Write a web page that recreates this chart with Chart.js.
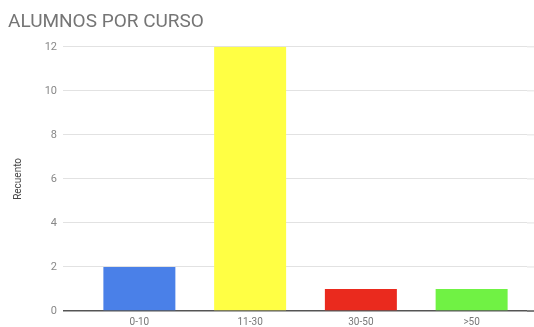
<!DOCTYPE html>
<html>
<head>
<meta charset="utf-8">
<script src="https://cdn.jsdelivr.net/npm/chart.js@4/dist/chart.umd.min.js"></script>
<style>
  body { margin: 0; background: #fff; }
  #wrap { width: 534px; height: 327px; }
</style>
</head>
<body>
<div id="wrap"><canvas id="graficoCurso"></canvas></div>
<script>
const categorias = ['0-10', '11-30', '30-50', '>50'];
const recuento = [2, 12, 1, 1];
const colores = ['#4a80e8', '#ffff44', '#ea2a1e', '#70f244'];
const tituloEje = 'Recuento';
const titulo = 'ALUMNOS POR CURSO';

const colorLinea = v => v === 0 ? '#555' : '#e2e2e2';
const anchoLinea = v => v === 0 ? 1.5 : 1;

// alarga las lineas de la grilla hasta el borde derecho
const extenderGrilla = {
    id: 'extenderGrilla',
    beforeDatasetsDraw(chart) {
        const { ctx, chartArea, scales } = chart;
        ctx.save();
        scales.y.ticks.forEach(t => {
            const y = scales.y.getPixelForValue(t.value);
            ctx.strokeStyle = colorLinea(t.value);
            ctx.lineWidth = anchoLinea(t.value);
            ctx.beginPath();
            ctx.moveTo(chartArea.right, y);
            ctx.lineTo(chart.width, y);
            ctx.stroke();
        });
        ctx.restore();
    }
};

document.addEventListener("DOMContentLoaded", () => {
    const grafico = document.querySelector("#graficoCurso");

    new Chart(grafico, {
        type: 'bar',
        data: {
            labels: categorias,
            datasets: [{
                label: tituloEje,
                data: recuento,
                backgroundColor: colores,
                barPercentage: 0.65,
                categoryPercentage: 1
            }]
        },
        options: {
            responsive: true,
            maintainAspectRatio: false,
            animation: false,
            layout: { padding: { left: 8, right: 7, top: 0, bottom: 0 } },
            plugins: {
                legend: { display: false },
                tooltip: { enabled: false },
                title: {
                    display: true,
                    text: titulo,
                    align: 'start',
                    color: '#757575',
                    font: { family: 'Roboto', size: 19, weight: 'normal' },
                    padding: { top: 11, bottom: 13 }
                }
            },
            scales: {
                x: {
                    grid: { display: false, drawTicks: false },
                    border: { display: false },
                    ticks: {
                        color: '#777',
                        font: { family: 'Roboto', size: 10 },
                        padding: 5
                    },
                    afterFit: scale => { scale.height = 16; }
                },
                y: {
                    min: 0,
                    max: 12,
                    border: { display: false },
                    grid: {
                        color: ctx => ctx.tick ? colorLinea(ctx.tick.value) : '#e2e2e2',
                        lineWidth: ctx => ctx.tick ? anchoLinea(ctx.tick.value) : 1,
                        tickLength: 21
                    },
                    ticks: {
                        stepSize: 2,
                        color: '#888',
                        font: { family: 'Roboto', size: 11 },
                        padding: 6
                    },
                    title: {
                        display: true,
                        text: tituloEje,
                        color: '#444',
                        font: { family: 'Roboto', size: 10 },
                        padding: { top: 4, bottom: 0 }
                    },
                    afterFit: scale => { scale.width = 76; }
                }
            }
        },
        plugins: [extenderGrilla]
    });
});
</script>
</body>
</html>
